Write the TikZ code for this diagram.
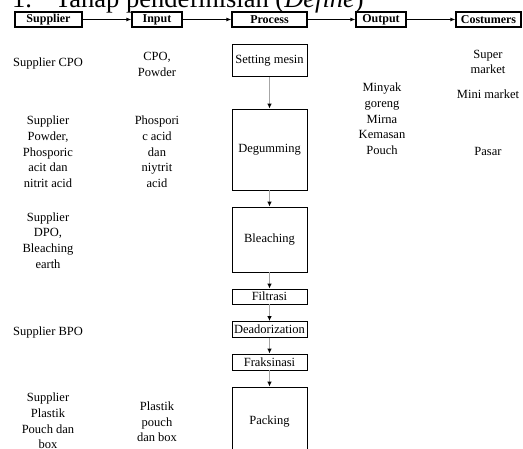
\documentclass[tikz,border=0pt]{standalone}
\usepackage{fontspec}
\setmainfont{Liberation Serif}
\usetikzlibrary{arrows.meta}
\begin{document}
\begin{tikzpicture}[x=1pt,y=-1pt,
  hdr/.style={draw=black,line width=1.3pt,inner sep=0pt,minimum height=15pt,font=\fontsize{12}{14}\selectfont\bfseries},
  pbox/.style={draw=black,line width=0.8pt,inner sep=0pt,minimum width=75pt,font=\fontsize{12.5}{15.7}\selectfont},
  txt/.style={inner sep=0pt,align=center,font=\fontsize{12.5}{15.7}\selectfont},
  harr/.style={-{Latex[length=5pt,width=4pt]},line width=0.9pt},
  parr/.style={draw=gray!70,line width=1pt,-{Latex[length=5pt,width=4.5pt,fill=black,color=black]}}
]
\useasboundingbox (0,0) rectangle (523,449);
\clip (0,0) rectangle (523,449);
% title
\node[anchor=base west,inner sep=0pt,font=\fontsize{26.5}{30}\selectfont] (title) at (12,7.5) {1.\hspace{23pt}Tahap pendefinisian (\textit{Define})};
% header
\node[hdr,minimum width=67pt] (sup) at (48.5,19.5) {Supplier};
\node[hdr,minimum width=50pt] (inp) at (157,19.5) {Input};
\node[hdr,minimum width=75pt] (proc) at (269.5,19.5) {Process};
\node[hdr,minimum width=50pt] (out) at (381,19.5) {Output};
\node[hdr,minimum width=65pt] (cus) at (488.5,19.5) {Costumers};
\draw[harr] (sup) -- (inp);
\draw[harr] (inp) -- (proc);
\draw[harr] (proc) -- (out);
\draw[harr] (out) -- (cus);
% process boxes
\node[pbox,minimum height=32pt] (set) at (269.5,60.5) {Setting mesin};
\node[pbox,minimum height=81pt] (deg) at (269.5,149.5) {Degumming};
\node[pbox,minimum height=65pt] (ble) at (269.5,239.5) {Bleaching};
\node[pbox,minimum height=15pt] (fil) at (269.5,296.5) {Filtrasi};
\node[pbox,minimum height=16pt] (dea) at (269.5,329.5) {Deadorization};
\node[pbox,minimum height=16pt] (fra) at (269.5,362) {Fraksinasi};
\node[pbox,minimum height=69pt] (pac) at (269.5,421.5) {Packing};
\draw[parr] (set) -- (deg);
\draw[parr] (deg) -- (ble);
\draw[parr] (ble) -- (fil);
\draw[parr] (fil) -- (dea);
\draw[parr] (dea) -- (fra);
\draw[parr] (fra) -- (pac);
% supplier column
\node[txt] (s1) at (48,63) {Supplier CPO};
\node[txt] (s2) at (48,152) {Supplier\\Powder,\\Phosporic\\acit dan\\nitrit acid};
\node[txt] (s3) at (48,240.5) {Supplier\\DPO,\\Bleaching\\earth};
\node[txt] (s4) at (48,332) {Supplier BPO};
\node[txt] (s5) at (48,421) {Supplier\\Plastik\\Pouch dan\\box};
% input column
\node[txt] (i1) at (157,64.5) {CPO,\\Powder};
\node[txt] (i2) at (157,152) {Phospori\\c acid\\dan\\niytrit\\acid};
\node[txt] (i3) at (157,422) {Plastik\\pouch\\dan box};
% output column
\node[txt] (o1) at (382,119) {Minyak\\goreng\\Mirna\\Kemasan\\Pouch};
% customers column
\node[txt] (c1) at (488,62) {Super\\market};
\node[txt] (c2) at (488,94) {Mini market};
\node[txt] (c3) at (488,151) {Pasar};
\end{tikzpicture}
\end{document}
